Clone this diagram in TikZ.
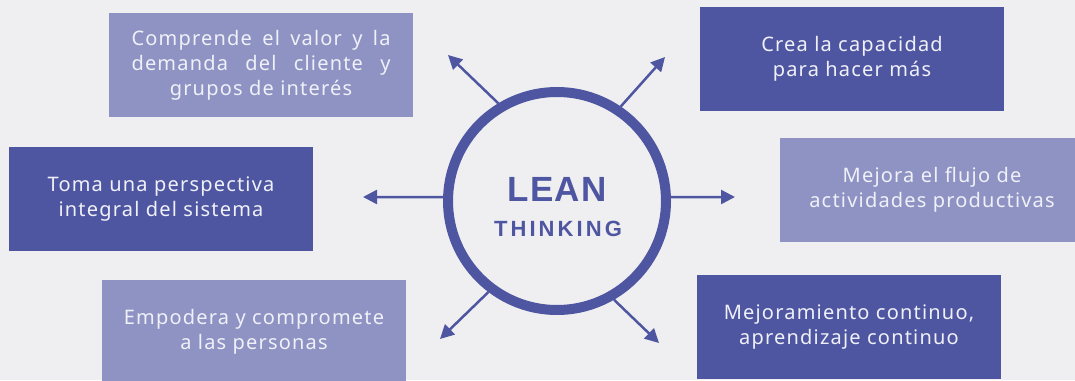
\documentclass[tikz,border=0pt]{standalone}
\usepackage{fontspec}
\setmainfont{Noto Sans}
\newfontfamily\cardfont[LetterSpace=6]{Noto Sans}
\newfontfamily\leanfont[LetterSpace=4]{Liberation Sans}
\newfontfamily\thinkfont[LetterSpace=14]{Liberation Sans}
\usetikzlibrary{arrows.meta}

\definecolor{leanblue}{RGB}{79,86,161}
\definecolor{leanlight}{RGB}{142,147,195}
\definecolor{leanbg}{RGB}{239,239,241}
\definecolor{leantext}{RGB}{240,241,248}

\tikzstyle{card} = [minimum width=304pt, minimum height=104pt, inner sep=0pt, text=leantext, align=center, font={\cardfont\fontsize{20}{25}\selectfont}]
\tikzstyle{darkcard} = [card, fill=leanblue]
\tikzstyle{lightcard} = [card, fill=leanlight]
\tikzstyle{ray} = [draw=leanblue, line width=2.5pt, -{Triangle[length=14pt,width=14pt]}]

\begin{document}
\begin{tikzpicture}[x=1pt,y=-1pt]
\useasboundingbox (0,0) rectangle (1075,380);
\fill[leanbg] (0,0) rectangle (1075,380);% background

%circle
\node[circle, draw=leanblue, line width=10pt, minimum size=218pt, inner sep=0pt] (lean) at (557,201) {};
\node[text=leanblue, font={\leanfont\bfseries\fontsize{35}{35}\selectfont}] (leanword) at (557,189) {LEAN};
\node[text=leanblue, font={\thinkfont\bfseries\fontsize{22}{22}\selectfont}] (thinkword) at (558,229) {THINKING};

%cards
\node[lightcard] (valor) at (261,65) {\makebox[259pt][s]{Comprende el valor y la}\\ \makebox[259pt][s]{demanda del cliente y}\\ grupos de interés};
\node[darkcard] (capacidad) at (852,59) {Crea la capacidad\\ para hacer más};
\node[darkcard] (sistema) at (161,199) {Toma una perspectiva\\ integral del sistema};
\node[lightcard] (flujo) at (932,190) {Mejora el flujo de\\ actividades productivas};
\node[lightcard] (personas) at (254,332) {Empodera y compromete\\ a las personas};
\node[darkcard] (mejora) at (849,327) {Mejoramiento continuo,\\ aprendizaje continuo};

%arrows
\coordinate (tipTL) at (448,55);
\coordinate (tipTR) at (665,57);
\coordinate (tipL) at (363,197);
\coordinate (tipR) at (735,197);
\coordinate (tipBL) at (440,339);
\coordinate (tipBR) at (659,343);
\draw[ray] (lean.121.5) -- (tipTL);
\draw[ray] (lean.56.7) -- (tipTR);
\draw[ray] (lean.178) -- (tipL);
\draw[ray] (lean.2) -- (tipR);
\draw[ray] (lean.233.7) -- (tipBL);
\draw[ray] (lean.300.4) -- (tipBR);
\end{tikzpicture}
\end{document}
